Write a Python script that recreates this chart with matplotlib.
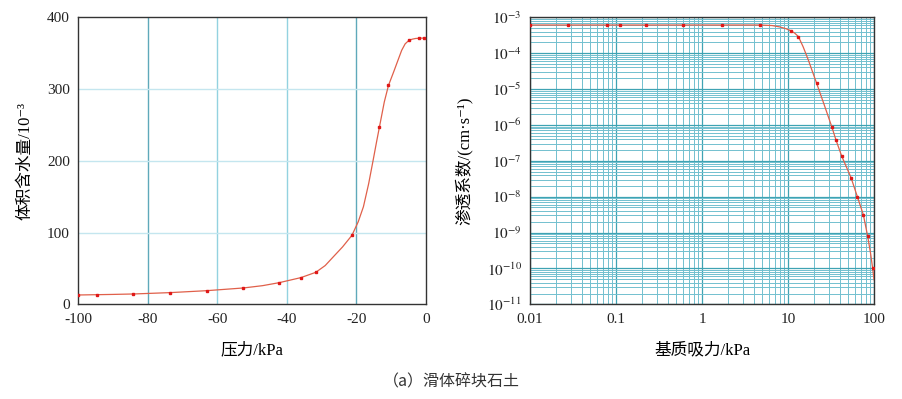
import numpy as np
import matplotlib.pyplot as plt
from matplotlib.ticker import LogLocator, NullFormatter

plt.rcParams['mathtext.fontset'] = 'stix'
plt.rcParams['axes.unicode_minus'] = False
serif_cjk = ['Liberation Serif', 'Noto Sans CJK SC', 'DejaVu Serif']

# 土水特征曲线 (left)
swcc_p = [-100, -94.5, -84.2, -73.6, -63.1, -52.5, -42.2, -36.0, -31.7, -21.3, -13.4, -10.8, -5.0, -2.0, -0.6]
swcc_w = [13, 13.5, 14.4, 16.3, 19, 22.8, 30.2, 37.2, 44.6, 96.2, 247, 305, 368, 371, 371]
curve_p = [-100, -90, -84.2, -73.6, -63.1, -52.5, -47, -42.2, -36.0, -31.7, -29, -26.7, -24, -21.3,
           -19.5, -18.0, -16.5, -15.2, -14.2, -13.4, -12.0, -10.8, -9.3, -8.0, -7.0, -6.0, -5.0,
           -4.0, -3.0, -1.5, 0]
curve_w = [13, 13.8, 14.4, 16.3, 19, 22.8, 26, 30.2, 37.2, 44.6, 54, 66, 80, 96.2,
           115, 136, 168, 201, 227, 247, 282, 305, 324, 341, 354, 363, 367.5,
           369.5, 370.5, 371, 371]

# 渗透系数曲线 (right)
k_s = [0.01, 0.0279, 0.0778, 0.111, 0.221, 0.607, 1.69, 4.72, 10.7, 13.2, 21.5, 32.2, 36.1, 42, 54, 64, 75.2, 84.4, 96.4]
k_v = [6.1e-4, 6.1e-4, 6.1e-4, 6.1e-4, 6.1e-4, 6.1e-4, 6.1e-4, 6.1e-4, 4.25e-4, 2.9e-4, 1.45e-5, 9e-7,
       3.8e-7, 1.37e-7, 3.4e-8, 1.0e-8, 3.1e-9, 7.8e-10, 1.0e-10]
kc_s = [0.01, 4.72, 6.5, 8.0, 9.5, 10.7, 12.0, 13.2, 15.0, 17.2, 21.5, 26.5, 32.2, 36.1, 42, 54, 64,
        75.2, 84.4, 91, 96.4, 100]
kc_v = [6.1e-4, 6.1e-4, 5.9e-4, 5.4e-4, 4.8e-4, 4.25e-4, 3.6e-4, 2.9e-4, 1.5e-4, 6.5e-5, 1.45e-5,
        3.5e-6, 9e-7, 3.8e-7, 1.37e-7, 3.4e-8, 1.0e-8, 3.1e-9, 7.8e-10, 2.7e-10, 1.0e-10, 4.8e-11]

line_c = '#e0604a'
mark_c = '#e01818'

fig = plt.figure(figsize=(9.02, 3.99), dpi=100)
ax1 = fig.add_axes([0.0868, 0.2373, 0.3855, 0.7193])
ax2 = fig.add_axes([0.5876, 0.2373, 0.3814, 0.7193])

# ---- left
ax1.plot(curve_p, curve_w, color=line_c, lw=0.9, zorder=3)
ax1.plot(swcc_p, swcc_w, 's', color=mark_c, ms=1.6, zorder=4)
ax1.set_xlim(-100, 0)
ax1.set_ylim(0, 400)
ax1.set_xticks([-100, -80, -60, -40, -20, 0])
ax1.set_yticks([0, 100, 200, 300, 400])
for xv, c in zip([-80, -60, -40, -20], ['#5fa9ba', '#93d2e0', '#93d2e0', '#5fa9ba']):
    ax1.axvline(xv, color=c, lw=1.0, zorder=1)
for yv in [100, 200, 300]:
    ax1.axhline(yv, color='#c4e6ef', lw=1.0, zorder=1)
ax1.set_xlabel('压力/kPa', family=serif_cjk, fontsize=12, labelpad=12)
ax1.set_ylabel('体积含水量/10⁻³', family=serif_cjk, fontsize=12, labelpad=10)

# ---- right
ax2.set_xscale('log')
ax2.set_yscale('log')
ax2.plot(kc_s, kc_v, color=line_c, lw=0.9, zorder=3)
ax2.plot(k_s, k_v, 's', color=mark_c, ms=1.6, zorder=4)
ax2.set_xlim(0.01, 100)
ax2.set_ylim(1e-11, 1e-3)
ax2.set_xticks([0.01, 0.1, 1, 10, 100])
ax2.set_xticklabels(['0.01', '0.1', '1', '10', '100'])
yt = [10.0 ** e for e in range(-11, -2)]
ax2.set_yticks(yt)
ax2.set_yticklabels(['$10^{%d}$' % e for e in range(-11, -2)])
ax2.xaxis.set_minor_locator(LogLocator(base=10, subs=np.arange(2, 10), numticks=20))
ax2.yaxis.set_minor_locator(LogLocator(base=10, subs=np.arange(2, 10), numticks=20))
ax2.xaxis.set_minor_formatter(NullFormatter())
ax2.yaxis.set_minor_formatter(NullFormatter())
ax2.grid(True, which='major', color='#3fa3b3', lw=0.9, zorder=1)
ax2.grid(True, which='minor', color='#72c0cf', lw=0.7, zorder=1)
ax2.set_axisbelow(True)
ax2.set_xlabel('基质吸力/kPa', family=serif_cjk, fontsize=12, labelpad=12)
ax2.set_ylabel('渗透系数/(cm·s⁻¹)', family=serif_cjk, fontsize=12, labelpad=10)

for ax in (ax1, ax2):
    for s in ax.spines.values():
        s.set_color('#333333')
        s.set_linewidth(1.0)
    ax.tick_params(which='both', length=0, labelsize=11, pad=6, colors='#222222')
    for lab in ax.get_xticklabels() + ax.get_yticklabels():
        lab.set_family('Liberation Serif')

fig.text(0.5, 0.043, '（a）滑体碎块石土', family=['Noto Sans CJK SC', 'DejaVu Sans'],
         fontsize=11.5, ha='center', va='center', color='#333333')

fig.savefig('out.png', dpi=100)
